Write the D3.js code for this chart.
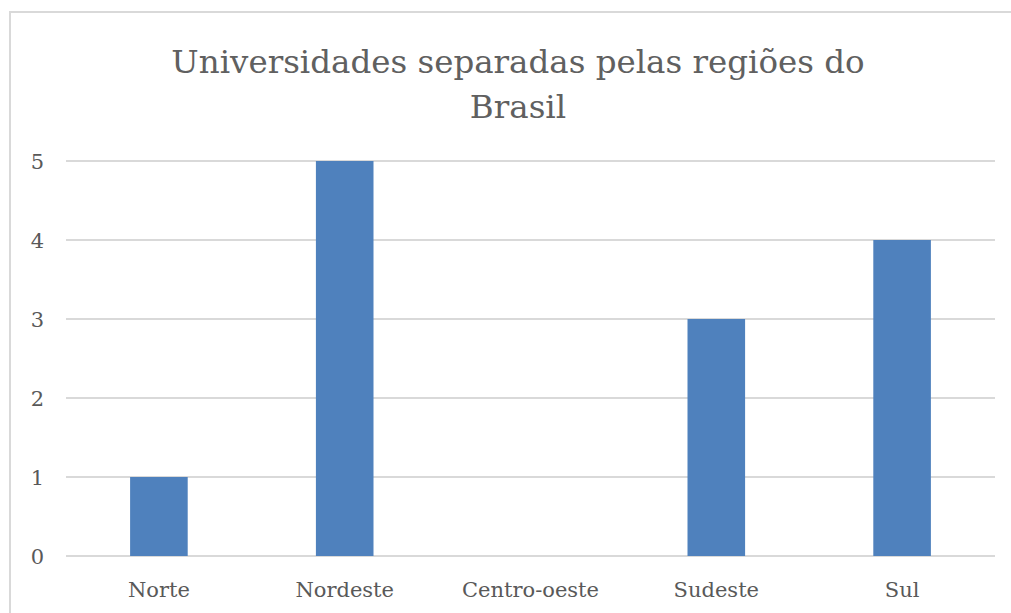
<!DOCTYPE html>
<html>
<head>
<meta charset="utf-8">
<script src="https://cdn.jsdelivr.net/npm/d3@7.9.0/dist/d3.min.js"></script>
<style>
  body { margin: 0; background: #fff; }
  svg text { font-family: "DejaVu Serif", "Liberation Serif", serif; fill: #595959; }
</style>
</head>
<body>
<svg id="chart" width="1011" height="613"></svg>
<script>
const regions = ["Norte", "Nordeste", "Centro-oeste", "Sudeste", "Sul"];
const counts = [1, 5, 0, 3, 4];
const yTicks = [0, 1, 2, 3, 4, 5];
const titleLines = ["Universidades separadas pelas regiões do", "Brasil"];

const svg = d3.select("#chart");

// outer chart border
svg.append("rect")
  .attr("x", 10).attr("y", 12)
  .attr("width", 1020).attr("height", 620)
  .attr("fill", "none")
  .attr("stroke", "#d9d9d9")
  .attr("stroke-width", 2);

const plotLeft = 66, plotRight = 995, plotTop = 161, plotBottom = 556;

const x = d3.scaleBand()
  .domain(regions)
  .range([plotLeft, plotRight])
  .paddingInner(0.69)
  .paddingOuter(0.345);

const y = d3.scaleLinear()
  .domain([0, 5])
  .range([plotBottom, plotTop]);

// gridlines
svg.append("g")
  .selectAll("line")
  .data(yTicks)
  .join("line")
  .attr("x1", plotLeft).attr("x2", plotRight)
  .attr("y1", d => y(d)).attr("y2", d => y(d))
  .attr("stroke", "#d9d9d9")
  .attr("stroke-width", 2);

// y tick labels
svg.append("g")
  .selectAll("text")
  .data(yTicks)
  .join("text")
  .attr("x", 44)
  .attr("y", d => y(d))
  .attr("dy", "0.36em")
  .attr("text-anchor", "end")
  .attr("font-size", 21)
  .text(d => d);

// bars
svg.append("g")
  .selectAll("rect")
  .data(counts)
  .join("rect")
  .attr("x", (d, i) => x(regions[i]))
  .attr("y", d => y(d))
  .attr("width", x.bandwidth())
  .attr("height", d => y(0) - y(d))
  .attr("fill", "#4f81bd");

// x labels
svg.append("g")
  .selectAll("text")
  .data(regions)
  .join("text")
  .attr("x", d => x(d) + x.bandwidth() / 2)
  .attr("y", 597)
  .attr("text-anchor", "middle")
  .attr("font-size", 21)
  .text(d => d);

// title
svg.append("g")
  .selectAll("text")
  .data(titleLines)
  .join("text")
  .attr("x", 518)
  .attr("y", (d, i) => 73 + i * 45)
  .attr("text-anchor", "middle")
  .attr("font-size", 32.5)
  .style("fill", "#606060")
  .text(d => d);
</script>
</body>
</html>
